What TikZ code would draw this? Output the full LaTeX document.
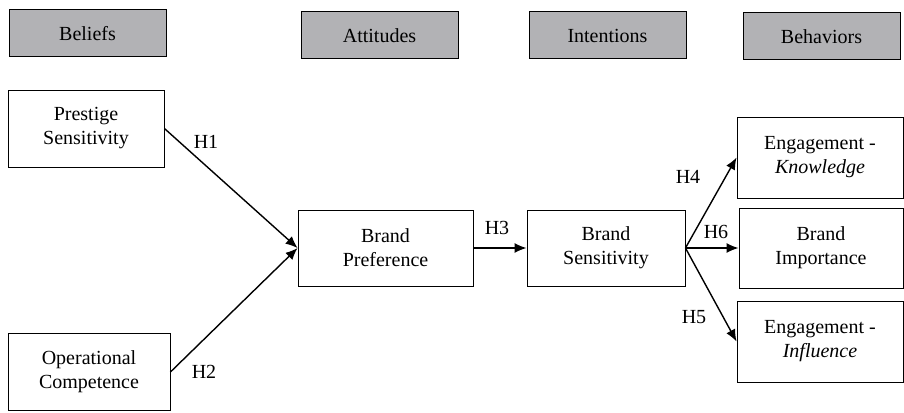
\documentclass[tikz,border=0pt]{standalone}
\usepackage{fontspec}
\setmainfont{Liberation Serif}
\usetikzlibrary{arrows.meta}
\definecolor{hdrgray}{RGB}{178,178,181}
\begin{document}
\begin{tikzpicture}[x=1pt,y=-1pt,
  every node/.style={font=\fontsize{20}{24}\selectfont, inner sep=0pt},
  hdr/.style={draw=black, line width=1pt, fill=hdrgray, minimum width=157pt, minimum height=47pt},
  box/.style={draw=black, line width=0.9pt, align=center},
  conn/.style={line width=1.4pt, -{Latex[length=12pt,width=10pt]}},
  lbl/.style={}]
\useasboundingbox (0,0) rectangle (904,412);
% headers
\node[hdr] (beliefs) at (87.5,33.5) {Beliefs};
\node[hdr] (attitudes) at (379.5,35.5) {Attitudes};
\node[hdr] (intentions) at (607.5,35.5) {Intentions};
\node[hdr] (behaviors) at (821.5,36.5) {Behaviors};
% boxes
\node[box, minimum width=156pt, minimum height=77pt] (prest) at (86,128.5) {Prestige\\Sensitivity};
\node[box, minimum width=162pt, minimum height=77pt] (oper) at (89,372) {Operational\\Competence};
\node[box, minimum width=175pt, minimum height=76pt] (pref) at (385.5,248) {Brand\\Preference};
\node[box, minimum width=158pt, minimum height=76pt] (sens) at (606,248) {Brand\\Sensitivity};
\node[box, minimum width=166pt, minimum height=81pt] (know) at (820,157.5) {Engagement -\\\textit{Knowledge}};
\node[box, minimum width=164pt, minimum height=80pt] (imp) at (821,248) {Brand\\Importance};
\node[box, minimum width=166pt, minimum height=81pt] (infl) at (820,341.5) {Engagement -\\\textit{Influence}};
% connectors
\draw[conn] (prest.east) -- (pref.west);
\draw[conn] (oper.east) -- (pref.west);
\draw[conn] (pref.east) -- (sens.west);
\draw[conn] (sens.east) -- (know.west);
\draw[conn] (sens.east) -- (imp.west);
\draw[conn] (sens.east) -- (infl.west);
% labels
\node[lbl] (h1) at (206,142) {H1};
\node[lbl] (h2) at (204,372) {H2};
\node[lbl] (h3) at (497,228) {H3};
\node[lbl] (h4) at (688,177) {H4};
\node[lbl] (h6) at (716,232) {H6};
\node[lbl] (h5) at (694,317) {H5};
\end{tikzpicture}
\end{document}
